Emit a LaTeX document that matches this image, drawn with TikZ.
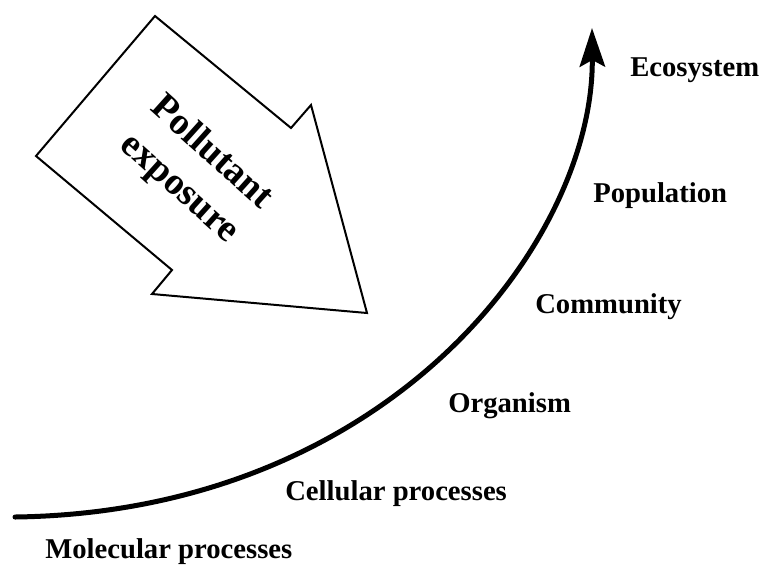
\documentclass[tikz,border=0pt]{standalone}
\usepackage{fontspec}
\setmainfont{Liberation Serif}
\usetikzlibrary{positioning,arrows.meta}
\tikzset{
	level label/.style={anchor=base west, inner sep=0pt, font=\fontsize{21.5}{26}\selectfont\bfseries},
	scale axis/.style={line width=3.75pt, line cap=round, -{Stealth[length=29pt,width=19pt,inset=5pt]}},
	exposure arrow/.style={draw, line width=1.5pt, line join=miter, fill=white},
}
\begin{document}
\begin{tikzpicture}[x=0.75pt,y=-0.75pt]
	\useasboundingbox (0,0) rectangle (763,572);
	% Exposure arrow
	\draw[exposure arrow] (155,16) -- (291,128) -- (311,105) -- (367,313) -- (152,294) -- (172,270) -- (36,156) -- cycle;
	\node [rotate=-42,align=center,font=\fontsize{28.5}{36}\selectfont\bfseries] (exposure) at (195,171) {Pollutant\\exposure};

	% Organisation levels
	\coordinate (mol) at (15,517);
	\coordinate (eco) at (592,28);
	\draw[scale axis] (mol) .. controls (390,512) and (594,240) .. (eco);

	\node [level label] (ecosystem) at (630,76) {Ecosystem};
	\node [level label] (population) at (593,202) {Population};
	\node [level label] (community) at (535,313) {Community};
	\node [level label] (organism) at (448,412) {Organism};
	\node [level label] (cellular) at (285,500) {Cellular processes};
	\node [level label] (molecular) at (45,558) {Molecular processes};
\end{tikzpicture}
\end{document}
